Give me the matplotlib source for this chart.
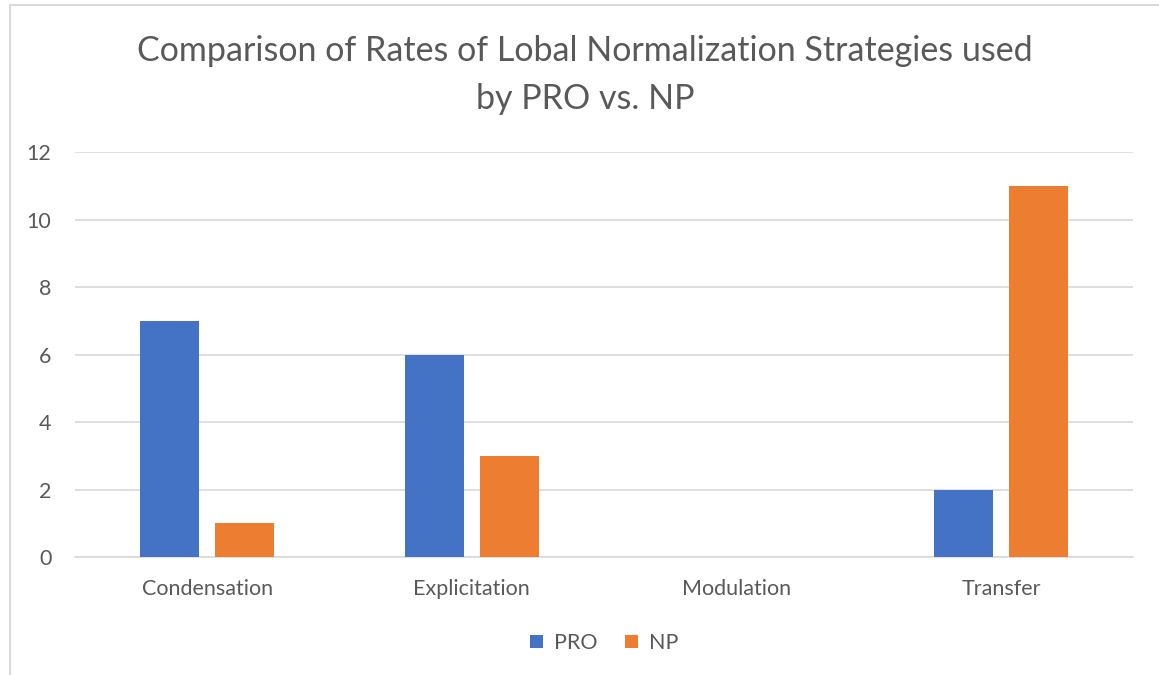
import numpy as np
import matplotlib.pyplot as plt
from matplotlib.lines import Line2D

plt.rcParams['font.family'] = ['Lato', 'DejaVu Sans']

categories = ['Condensation', 'Explicitation', 'Modulation', 'Transfer']
pro = [7, 6, 0, 2]
np_vals = [1, 3, 0, 11]

blue = '#4472C4'
orange = '#ED7D31'
text_col = '#595959'
grid_col = '#D9D9D9'

fig = plt.figure(figsize=(11.59, 6.75), dpi=100)
ax = fig.add_axes([0.0647, 0.1748, 0.913, 0.6])

x = np.arange(len(categories))
w = 0.223
off = 0.1415
ax.bar(x - off, pro, w, color=blue, label='PRO', zorder=3)
ax.bar(x + off, np_vals, w, color=orange, label='NP', zorder=3)

ax.set_xlim(-0.5, 3.5)
ax.set_ylim(0, 12)
ax.set_yticks(range(0, 13, 2))
ax.set_xticks(x)
ax.set_xticklabels(categories)
ax.yaxis.grid(True, color=grid_col, linewidth=1.2, zorder=0)
ax.set_axisbelow(True)
for s in ['top', 'right', 'left']:
    ax.spines[s].set_visible(False)
ax.spines['bottom'].set_color(grid_col)
ax.spines['bottom'].set_linewidth(1.2)
ax.tick_params(axis='both', length=0, labelsize=15.5, labelcolor=text_col)
ax.tick_params(axis='y', pad=17)
ax.tick_params(axis='x', pad=16)

fig.suptitle('Comparison of Rates of Lobal Normalization Strategies used\nby PRO vs. NP',
             x=0.505, y=0.948, fontsize=24.5, color=text_col, linespacing=1.6)

ax.legend(loc='upper center', bbox_to_anchor=(0.5, -0.14), ncol=2, frameon=False,
          fontsize=15.5, labelcolor=text_col, handlelength=0.6, handleheight=0.6,
          columnspacing=1.3, handletextpad=0.5)

# chart area border (left and top edges visible in the reference)
fig.add_artist(Line2D([0.009, 0.009], [0, 0.993], transform=fig.transFigure, color=grid_col, lw=1.5))
fig.add_artist(Line2D([0.009, 1], [0.993, 0.993], transform=fig.transFigure, color=grid_col, lw=1.5))

fig.savefig('out.png', dpi=100)
